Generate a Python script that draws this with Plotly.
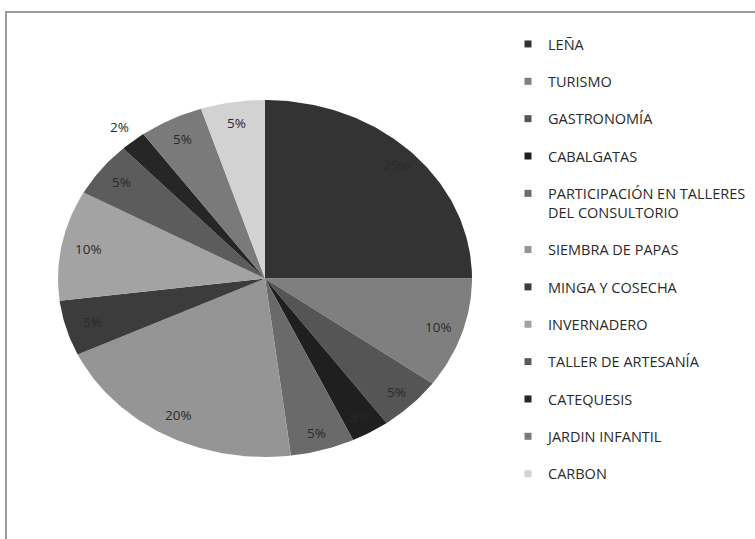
import numpy as np
import plotly.graph_objects as go

categories = ["LEÑA", "TURISMO", "GASTRONOMÍA", "CABALGATAS",
              "PARTICIPACIÓN EN TALLERES<br>DEL CONSULTORIO", "SIEMBRA DE PAPAS",
              "MINGA Y COSECHA", "INVERNADERO", "TALLER DE ARTESANÍA",
              "CATEQUESIS", "JARDIN INFANTIL", "CARBON"]
values = [25, 10, 5, 3, 5, 20, 5, 10, 5, 2, 5, 5]
pct_labels = ["25%", "10%", "5%", "3%", "5%", "20%", "5%", "10%", "5%", "2%", "5%", "5%"]

colors = ["#333333", "#7f7f7f", "#555555", "#1f1f1f", "#6a6a6a", "#959595",
          "#3c3c3c", "#a3a3a3", "#5c5c5c", "#262626", "#7a7a7a", "#d2d2d2"]
label_radius = [0.9, 0.88, 0.9, 0.9, 0.9, 0.87, 0.87, 0.87, 0.88, 1.1, 0.88, 0.88]

fig = go.Figure()

total = float(sum(values))
cum = 0.0
annotations = []
for i, v in enumerate(values):
    a0 = cum / total * 2 * np.pi
    a1 = (cum + v) / total * 2 * np.pi
    t = np.linspace(a0, a1, max(4, int(v * 4)))
    xs = np.concatenate([[0], np.sin(t), [0]])
    ys = np.concatenate([[0], np.cos(t), [0]])
    fig.add_trace(go.Scatter(x=xs, y=ys, mode="lines", fill="toself",
                             fillcolor=colors[i], line=dict(width=0, color=colors[i]),
                             showlegend=False, hoverinfo="skip"))
    am = (a0 + a1) / 2
    r = label_radius[i]
    annotations.append(dict(x=r * np.sin(am), y=r * np.cos(am), xref="x", yref="y",
                            text=pct_labels[i], showarrow=False,
                            font=dict(family="Open Sans", size=13.5, color="#2a2a2a")))
    cum += v

for i, c in enumerate(categories):
    fig.add_trace(go.Scatter(x=[None], y=[None], mode="markers", name=c,
                             legendgroup="g%d" % i,
                             marker=dict(symbol="square", size=7, color=colors[i])))

fig.update_layout(
    width=755, height=539,
    margin=dict(l=0, r=0, t=0, b=0),
    paper_bgcolor="white", plot_bgcolor="white",
    xaxis=dict(visible=False, range=[-1, 1], domain=[58 / 755, 472 / 755], fixedrange=True),
    yaxis=dict(visible=False, range=[-1, 1], domain=[1 - 457 / 539, 1 - 100 / 539], fixedrange=True),
    legend=dict(x=508 / 755, y=0.948, xanchor="left", yanchor="top", valign="top",
                font=dict(family="Open Sans", size=14.5, color="#2a2a2a"),
                tracegroupgap=15.5, itemwidth=30, bgcolor="rgba(0,0,0,0)"),
    annotations=annotations,
    shapes=[dict(type="rect", xref="paper", yref="paper",
                 x0=6 / 755, x1=1.02, y0=-0.02, y1=1 - 12 / 539,
                 line=dict(color="#9a9a9a", width=2), fillcolor="rgba(0,0,0,0)", layer="below")],
)

fig.write_html("out.html")
